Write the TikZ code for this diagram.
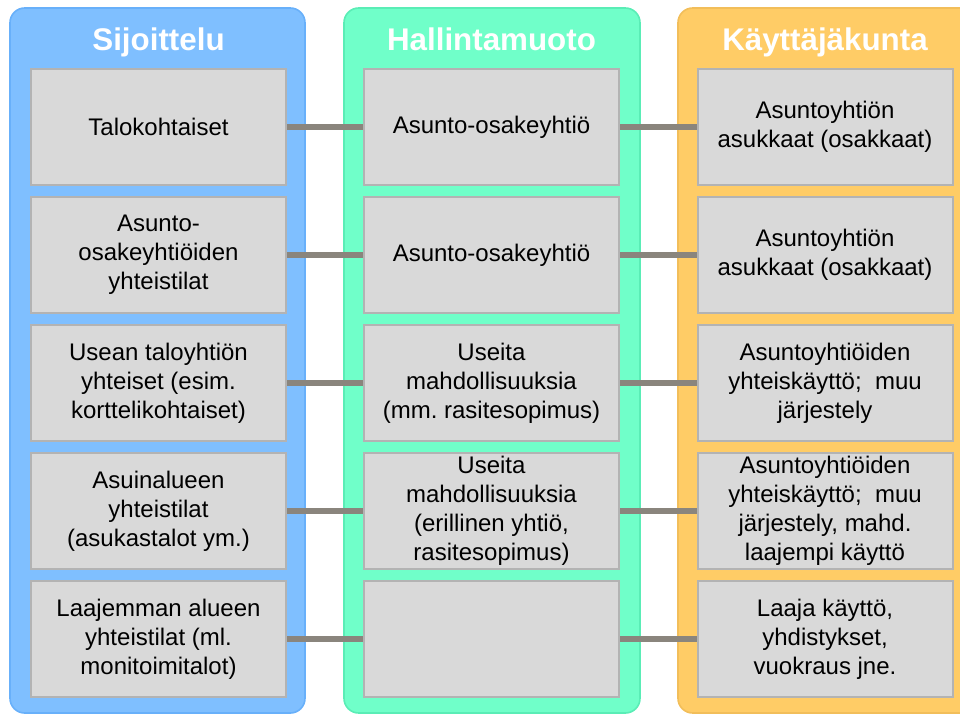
\documentclass[tikz,border=0pt]{standalone}
\usepackage{fontspec}
\setmainfont{Liberation Sans}
\usepackage{tikz}
\usepackage{xcolor}
\definecolor{sijFill}{HTML}{7FBFFF}
\definecolor{sijLine}{HTML}{68B0FA}
\definecolor{halFill}{HTML}{70FFC9}
\definecolor{halLine}{HTML}{5AEDB6}
\definecolor{kayFill}{HTML}{FFCC66}
\definecolor{kayLine}{HTML}{F2BE5A}
\definecolor{boxFill}{HTML}{D9D9D9}
\definecolor{boxLine}{HTML}{B3B3B3}
\definecolor{linkGray}{HTML}{8A857D}
\frenchspacing

\begin{document}
\begin{tikzpicture}
		[x=0.75pt,y=-0.75pt,
		panelDecorate/.style={line width=1.2pt,rounded corners=11pt},%
		headDecorate/.style={anchor=base,text=white,font=\fontsize{23.5}{28}\selectfont\bfseries},%
		nodeDecorate/.style={shape=rectangle,draw=boxLine,fill=boxFill,line width=1.5pt,
			minimum width=191.25pt,minimum height=87pt,inner sep=2pt,align=center,
			font=\fontsize{18}{21.75}\selectfont},%
		lineDecorate/.style={-,line width=4.5pt,draw=linkGray}]
		\useasboundingbox (0,0) rectangle (960,715);
		%% columns
		\draw[panelDecorate,fill=sijFill,draw=sijLine] (10,8) rectangle (305,713);
		\draw[panelDecorate,fill=halFill,draw=halLine] (344,8) rectangle (640,713);
		\draw[panelDecorate,fill=kayFill,draw=kayLine] (678,8) rectangle (990,713);
		\foreach \colname/\x/\title in {S/158.5/Sijoittelu, H/491.5/Hallintamuoto, K/825/Käyttäjäkunta}
		{
			\node (head\colname) at (\x,50) [headDecorate] {\title};
		}
		%% boxes
		\foreach \row/\y/\sij/\hal/\kay in {
			1/127/{Talokohtaiset}/{Asunto-osakeyhtiö}/{Asuntoyhtiön\\asukkaat (osakkaat)},
			2/255/{Asunto-\\osakeyhtiöiden\\yhteistilat}/{Asunto-osakeyhtiö}/{Asuntoyhtiön\\asukkaat (osakkaat)},
			3/383/{Usean taloyhtiön\\yhteiset (esim.\\korttelikohtaiset)}/{Useita\\mahdollisuuksia\\(mm. rasitesopimus)}/{Asuntoyhtiöiden\\yhteiskäyttö; \ muu\\järjestely},
			4/511/{Asuinalueen\\yhteistilat\\(asukastalot ym.)}/{Useita\\mahdollisuuksia\\(erillinen yhtiö,\\rasitesopimus)}/{Asuntoyhtiöiden\\yhteiskäyttö; \ muu\\järjestely, mahd.\\laajempi käyttö},
			5/639/{Laajemman alueen\\yhteistilat (ml.\\monitoimitalot)}/{}/{Laaja käyttö,\\yhdistykset,\\vuokraus jne.}}
		{
			\node (S\row) at (158.5,\y) [nodeDecorate] {\sij};
			\node (H\row) at (491.5,\y) [nodeDecorate] {\hal};
			\node (K\row) at (825,\y) [nodeDecorate] {\kay};
		}
		%% links
		\path
		\foreach \startnode/\endnode in {S1/H1, S2/H2, S3/H3, S4/H4, S5/H5, H1/K1, H2/K2, H3/K3, H4/K4, H5/K5}
		{
			(\startnode) edge[lineDecorate] (\endnode)
		};
	\end{tikzpicture}
\end{document}
